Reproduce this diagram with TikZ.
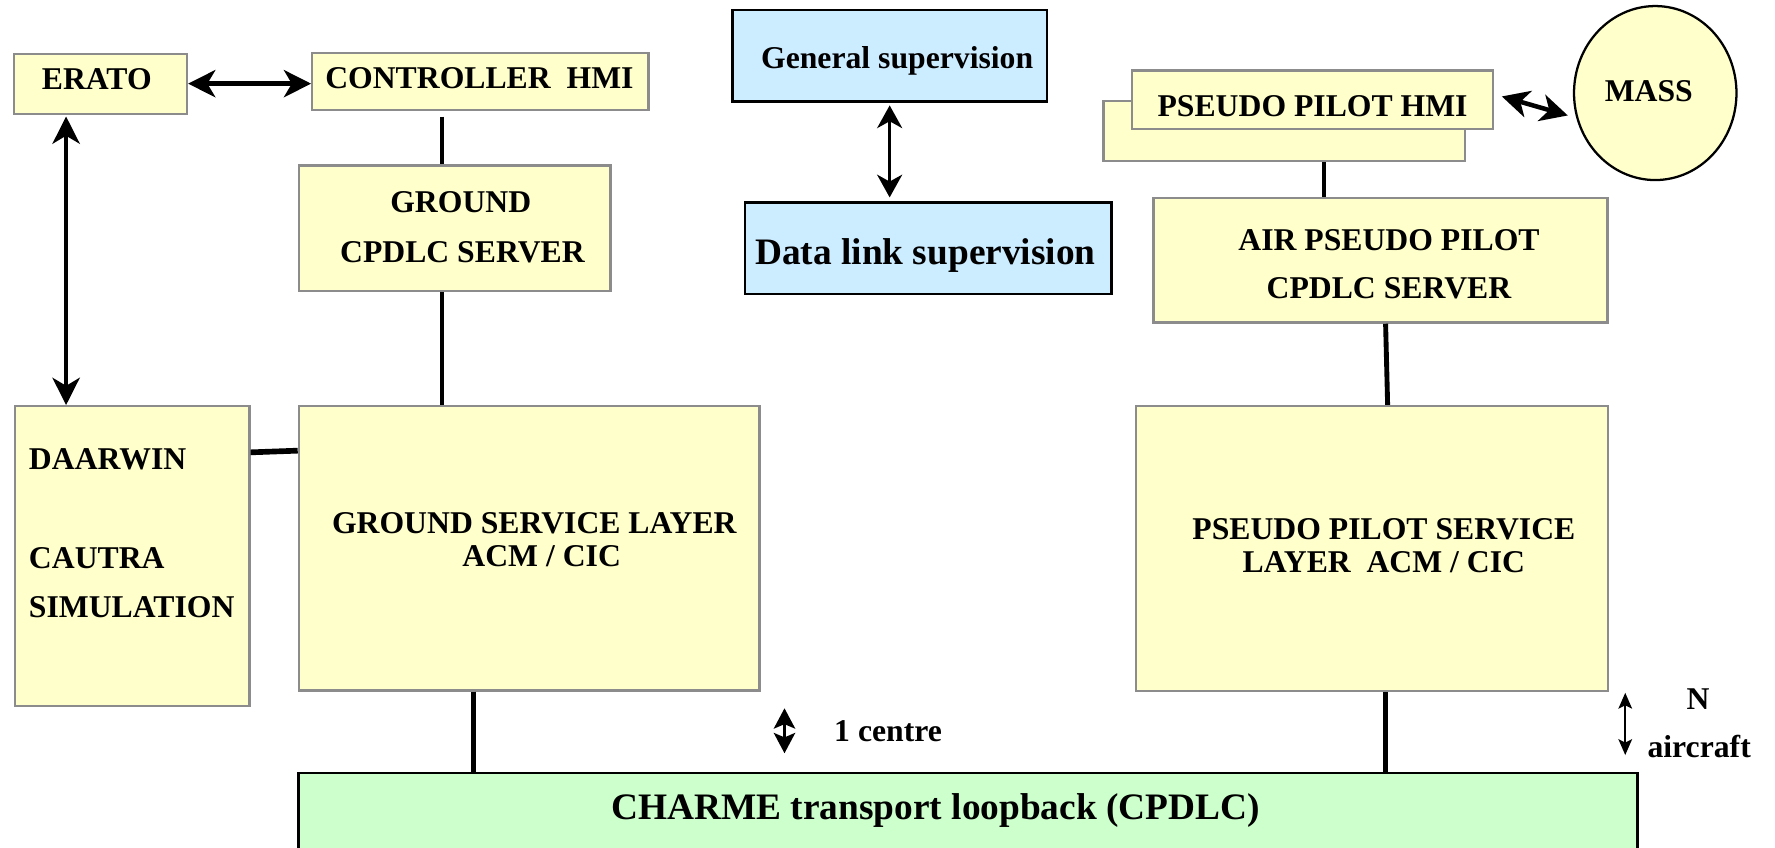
\documentclass[tikz,border=0pt]{standalone}
\usepackage{fontspec}
\setmainfont{Liberation Serif}
\usetikzlibrary{arrows.meta,shapes.geometric}
\definecolor{boxyellow}{HTML}{FFFFCC}
\definecolor{boxblue}{HTML}{CCECFF}
\definecolor{boxgreen}{HTML}{CCFFCC}
\definecolor{boxgray}{HTML}{8C8C8C}
\begin{document}
\begin{tikzpicture}[x=1pt,y=-1pt,
  ybox/.style={draw=boxgray, line width=2pt, fill=boxyellow, inner sep=0pt},
  bbox/.style={draw=black, line width=2.4pt, fill=boxblue, inner sep=0pt},
  lbl/.style={anchor=base, inner sep=0pt, font=\fontsize{28}{34}\selectfont\bfseries},
  biglbl/.style={anchor=base, inner sep=0pt, font=\fontsize{33}{40}\selectfont\bfseries},
  link/.style={line width=4.3pt},
  dbl/.style={line width=4pt, {Stealth[length=24pt,width=24pt,inset=7pt]}-{Stealth[length=24pt,width=24pt,inset=7pt]}},
  dblmid/.style={line width=3.2pt, {Stealth[length=20pt,width=22pt,inset=6pt]}-{Stealth[length=20pt,width=22pt,inset=6pt]}},
  centredbl/.style={line width=2pt, {Stealth[length=18pt,width=19pt,inset=4pt]}-{Stealth[length=18pt,width=19pt,inset=4pt]}},
  smalldbl/.style={line width=2pt, {Stealth[length=14pt,width=12pt,inset=3pt]}-{Stealth[length=14pt,width=12pt,inset=3pt]}},
]
\useasboundingbox (0,0) rectangle (1568,749);
\clip (0,0) rectangle (1568,749);

% ---------- boxes ----------
\node[ybox, minimum width=153pt, minimum height=53pt] (erato) at (88.7,73.9) {};
\node[ybox, minimum width=297pt, minimum height=50pt] (ctrl) at (424.3,72) {};
\node[ybox, minimum width=275pt, minimum height=111pt] (gs) at (401.7,201.7) {};
\node[ybox, minimum width=207pt, minimum height=265pt] (daarwin) at (116.9,491.3) {};
\node[ybox, minimum width=407pt, minimum height=251pt] (gsl) at (467.5,484.4) {};
\node[bbox, minimum width=278pt, minimum height=81pt] (gensup) at (785.9,49.4) {};
\node[bbox, minimum width=324pt, minimum height=81pt] (dlsup) at (820,219.1) {};
\node[ybox, minimum width=319pt, minimum height=53pt] (pphmiback) at (1134.4,116) {};
\node[ybox, minimum width=319pt, minimum height=52pt] (pphmi) at (1159.2,88.2) {};
\node[ellipse, draw=black, line width=2pt, fill=boxyellow, inner sep=0pt,
      minimum width=143.5pt, minimum height=153.7pt] (mass) at (1462.2,82.2) {};
\node[ybox, minimum width=401pt, minimum height=110pt] (airpp) at (1219.5,230) {};
\node[ybox, minimum width=417pt, minimum height=252pt] (ppsl) at (1211.7,484.7) {};
\node[draw=black, line width=2.4pt, fill=boxgreen, inner sep=0pt,
      minimum width=1183pt, minimum height=77pt] (charme) at (855.3,721.3) {};

% ---------- texts ----------
\node[lbl] (terato) at (85.5,79.5) {ERATO};
\node[lbl] (tctrl) at (423.5,78) {CONTROLLER\ \ HMI};
\node[lbl] (tgs1) at (407,188) {GROUND};
\node[lbl] (tgs2) at (408.5,232) {CPDLC SERVER};
\node[lbl, anchor=base west] (tdaar1) at (25.4,414.6) {DAARWIN};
\node[lbl, anchor=base west] (tdaar2) at (25.4,502) {CAUTRA};
\node[lbl, anchor=base west] (tdaar3) at (25.4,545.3) {SIMULATION};
\node[lbl] (tgsl1) at (472,471) {GROUND SERVICE LAYER};
\node[lbl] (tgsl2) at (478.5,500) {ACM / CIC};
\node[biglbl] (tcharme) at (826.5,724) {CHARME transport loopback (CPDLC)};
\node[lbl] (tcentre) at (784.5,655) {1 centre};
\node[lbl] (tgensup) at (792.5,60.4) {General supervision};
\node[biglbl] (tdlsup) at (817.5,234) {Data link supervision};
\node[lbl] (tpphmi) at (1159.5,103) {PSEUDO PILOT HMI};
\node[lbl] (tmass) at (1456.5,90) {MASS};
\node[lbl] (tairpp1) at (1227,221) {AIR PSEUDO PILOT};
\node[lbl] (tairpp2) at (1227,264) {CPDLC SERVER};
\node[lbl] (tppsl1) at (1222.5,477) {PSEUDO PILOT SERVICE};
\node[lbl] (tppsl2) at (1222.5,506) {LAYER\ \ ACM / CIC};
\node[lbl] (tn) at (1500,627) {N};
\node[lbl] (taircraft) at (1501,669) {aircraft};

% ---------- connectors ----------
\draw[dbl] (erato.east) -- (erato.east -| ctrl.west);
\draw[dbl] ([xshift=-30.3pt,yshift=-1.5pt]erato.south) -- ([xshift=-30.3pt]erato.south |- daarwin.north);
\draw[link] ([xshift=-11.3pt]gs.north |- ctrl.south) ++(0,5) -- ([xshift=-11.3pt]gs.north);
\draw[link] ([xshift=-11.3pt]gs.south) -- ([xshift=-11.3pt]gs.south |- gsl.north);
\draw[line width=5pt] ([yshift=91.7pt]daarwin.east) -- ([yshift=86.3pt]gsl.west);
\draw[link] ([xshift=-49.5pt]gsl.south) -- ([xshift=-49.5pt]gsl.south |- charme.north);
\draw[dblmid, shorten <=2pt, shorten >=3pt] (gensup.south) -- (gensup.south |- dlsup.north);
\draw[dbl] ([shift={(7pt,3pt)}]pphmi.east) -- ([shift={(-4.5pt,-19.8pt)}]mass.west);
\draw[link] ([xshift=35.2pt]pphmiback.south) -- ([xshift=35.2pt]pphmiback.south |- airpp.north);
\draw[link] ([xshift=4.5pt]airpp.south) -- ([xshift=14.1pt]ppsl.north);
\draw[link] ([xshift=12.3pt]ppsl.south) -- ([xshift=12.3pt]ppsl.south |- charme.north);

\coordinate (c1top) at (693,625.7);
\coordinate (c1bot) at (693,665.4);
\draw[centredbl] (c1top) -- (c1bot);
\coordinate (natop) at (1435.7,612);
\coordinate (nabot) at (1435.7,667);
\draw[smalldbl] (natop) -- (nabot);
\end{tikzpicture}
\end{document}
